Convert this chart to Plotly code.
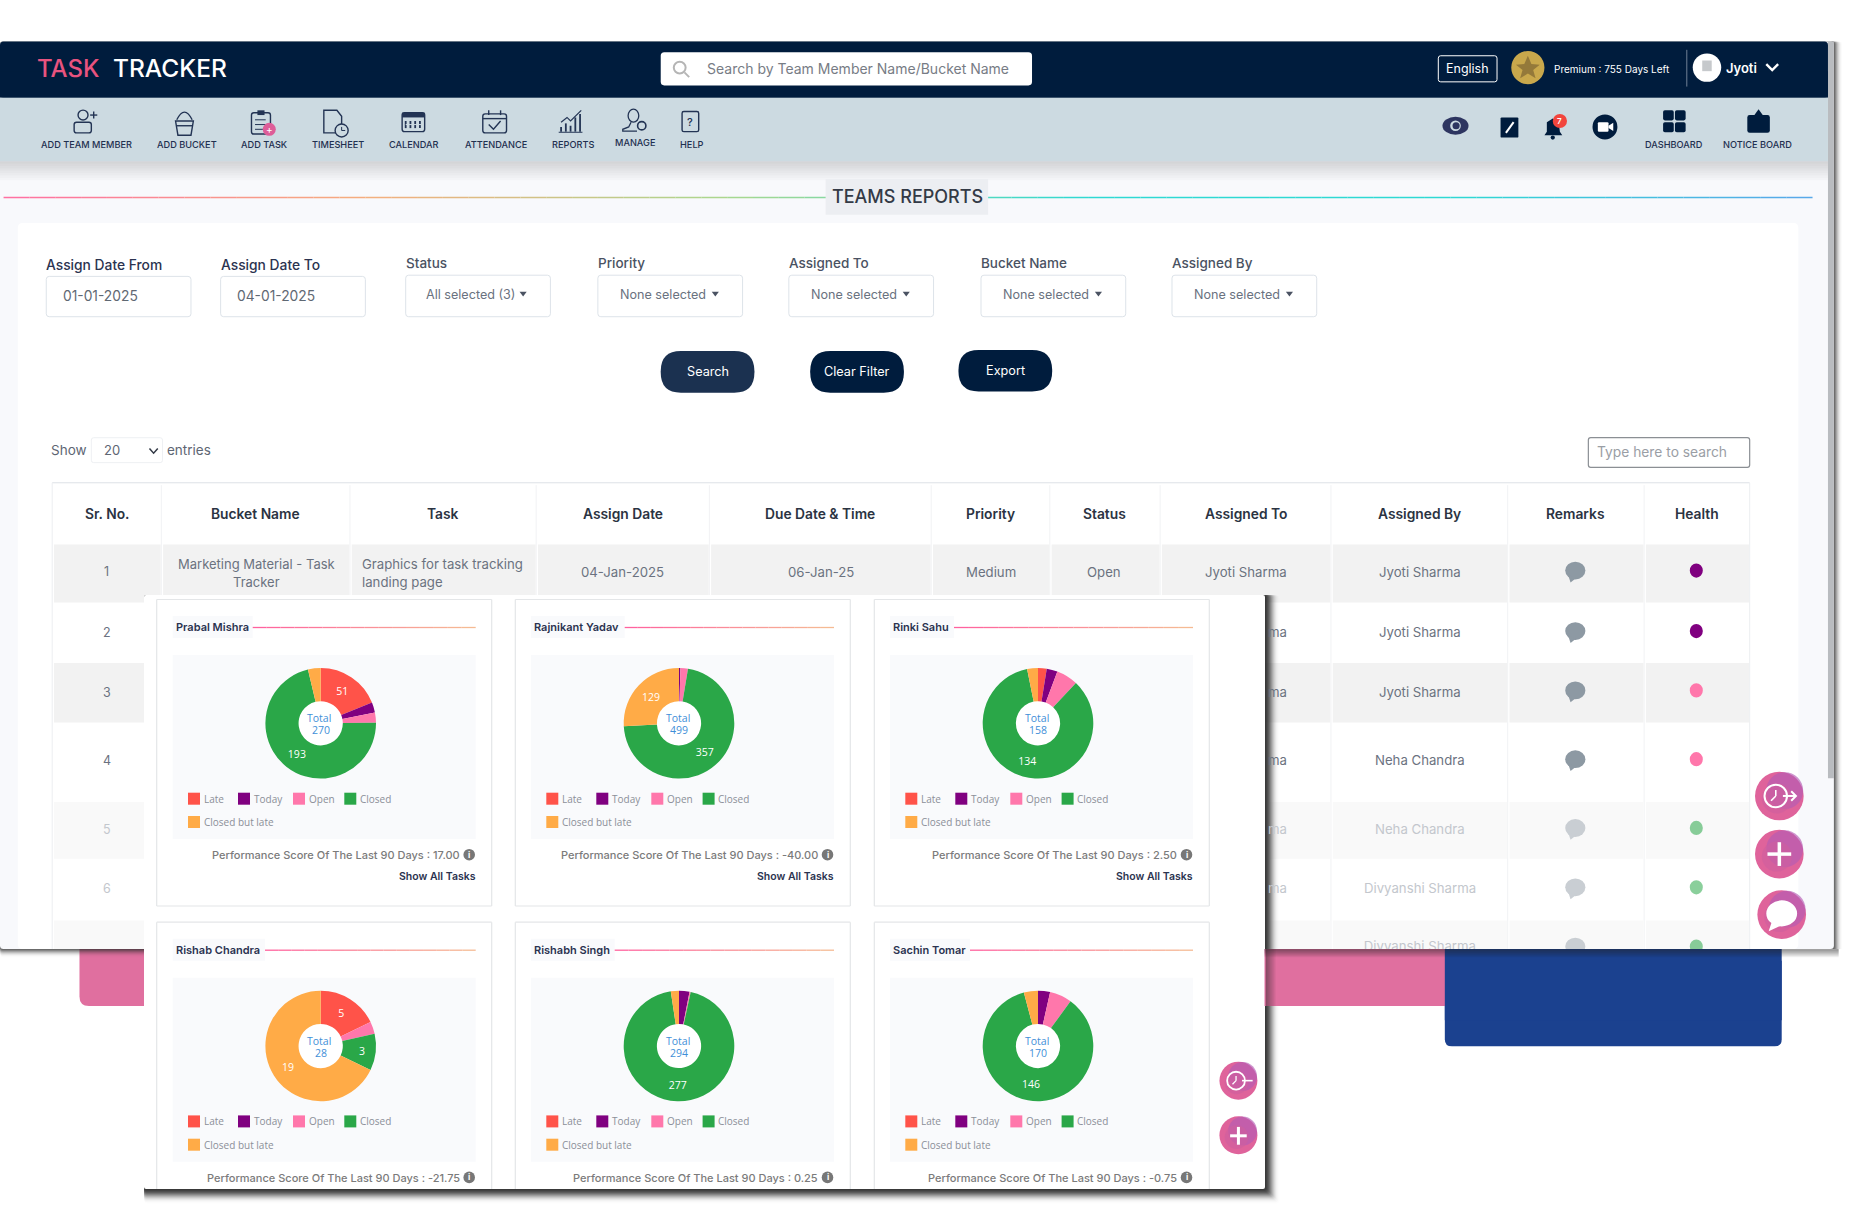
import plotly.graph_objects as go

# ---------- data ----------
CATEGORIES = ["Late", "Today", "Open", "Closed", "Closed but late"]
MEMBERS = ["Prabal Mishra", "Rajnikant Yadav", "Rinki Sahu", "Rishab Chandra", "Rishabh Singh", "Sachin Tomar"]
LATE = [51, 0, 4, 5, 0, 0]
TODAY = [8, 2, 5, 0, 9, 6]
OPEN = [8, 11, 10, 1, 1, 11]
CLOSED = [193, 357, 134, 3, 277, 146]
CLOSED_LATE = [10, 129, 5, 19, 7, 7]
TOTALS = [270, 499, 158, 28, 294, 170]
SCORES = ["17.00", "-40.00", "2.50", "-21.75", "0.25", "-0.75"]
COLORS = ["#ff5349", "#800080", "#ff77ab", "#2aa748", "#ffab47"]

NAV_LEFT = ["ADD TEAM MEMBER", "ADD BUCKET", "ADD TASK", "TIMESHEET", "CALENDAR", "ATTENDANCE", "REPORTS", "MANAGE", "HELP"]
NAV_LEFT_X = [73, 158, 223, 285, 349, 418, 483, 535, 583]
HEADERS = ["Sr. No.", "Bucket Name", "Task", "Assign Date", "Due Date & Time", "Priority", "Status", "Assigned To", "Assigned By", "Remarks", "Health"]
COL_EDGES = [44, 136, 295, 452, 598, 785, 885, 978, 1122, 1271, 1386, 1475]
ROW_EDGES = [459, 508, 559, 609, 676, 724, 776, 830]
ASSIGNED_BY = ["Jyoti Sharma", "Jyoti Sharma", "Jyoti Sharma", "Neha Chandra", "Neha Chandra", "Divyanshi Sharma"]
HEALTH = ["#800080", "#800080", "#ff77ab", "#ff77ab", "#2aa748", "#2aa748", "#2aa748"]
FILTER_DATES = [("Assign Date From", "01-01-2025", 39), ("Assign Date To", "04-01-2025", 186)]
FILTER_SELECTS = [("Status", "All selected (3)", 342), ("Priority", "None selected", 504), ("Assigned To", "None selected", 665),
                  ("Bucket Name", "None selected", 827), ("Assigned By", "None selected", 988)]

# ---------- helpers ----------
W, H = 1860, 1230
S = W / 1568          # chrome is laid out in 1568-wide units
UI = "Inter"
CHART = "Open Sans"
NAVY = "#001c3d"
INK = "#2b3350"
shapes, annots = [], []


def d(v):
    return v * S


def rr_path(x0, y0, x1, y1, r):
    return (f"M{x0+r},{y0} L{x1-r},{y0} Q{x1},{y0} {x1},{y0+r} L{x1},{y1-r} Q{x1},{y1} {x1-r},{y1} "
            f"L{x0+r},{y1} Q{x0},{y1} {x0},{y1-r} L{x0},{y0+r} Q{x0},{y0} {x0+r},{y0} Z")


def rect(x0, y0, x1, y1, fill="rgba(0,0,0,0)", line=None, lw=1, r=0, layer="below", op=1):
    ln = dict(color=line, width=lw) if line else dict(width=0)
    base = dict(xref="x", yref="y", layer=layer, fillcolor=fill, line=ln, opacity=op)
    if r:
        shapes.append(dict(type="path", path=rr_path(x0, y0, x1, y1, r), **base))
    else:
        shapes.append(dict(type="rect", x0=x0, y0=y0, x1=x1, y1=y1, **base))


def drect(x0, y0, x1, y1, fill="rgba(0,0,0,0)", line=None, lw=1, r=0, layer="below", op=1):
    rect(d(x0), d(y0), d(x1), d(y1), fill, line, lw, r * S, layer, op)


def circ(cx, cy, r, fill="rgba(0,0,0,0)", line=None, lw=1, op=1, rx=None):
    rx = r if rx is None else rx
    ln = dict(color=line, width=lw) if line else dict(width=0)
    shapes.append(dict(type="circle", xref="x", yref="y", layer="below", x0=cx-rx, x1=cx+rx, y0=cy-r, y1=cy+r,
                       fillcolor=fill, line=ln, opacity=op))


def dcirc(cx, cy, r, fill="rgba(0,0,0,0)", line=None, lw=1, op=1, rx=None):
    circ(d(cx), d(cy), d(r), fill, line, lw, op, None if rx is None else d(rx))


def seg(x0, y0, x1, y1, color, lw=1, op=1, layer="below"):
    shapes.append(dict(type="line", xref="x", yref="y", layer=layer, x0=x0, y0=y0, x1=x1, y1=y1,
                       line=dict(color=color, width=lw), opacity=op))


def dseg(x0, y0, x1, y1, color, lw=1, op=1):
    seg(d(x0), d(y0), d(x1), d(y1), color, lw, op)


def poly(pts, fill="rgba(0,0,0,0)", line=None, lw=1, close=True):
    p = "M" + " L".join(f"{d(x)},{d(y)}" for x, y in pts) + (" Z" if close else "")
    ln = dict(color=line, width=lw) if line else dict(width=0)
    shapes.append(dict(type="path", path=p, xref="x", yref="y", layer="below", fillcolor=fill, line=ln))


def text(x, y, s, size=12, color="#555", anchor="center", family=UI, weight=400):
    annots.append(dict(x=x, y=y, xref="x", yref="y", text=s, showarrow=False, xanchor=anchor, yanchor="middle",
                       borderpad=0, borderwidth=0, font=dict(size=size, color=color, family=family, weight=weight)))


def dtext(x, y, s, size=12, color="#555", anchor="center", family=UI, weight=400):
    text(d(x), d(y), s, size, color, anchor, family, weight)


def mix(a, b, t):
    ca = [int(a[i:i+2], 16) for i in (1, 3, 5)]
    cb = [int(b[i:i+2], 16) for i in (1, 3, 5)]
    return "#%02x%02x%02x" % tuple(round(p + (q - p) * t) for p, q in zip(ca, cb))


def grad_line(x0, x1, y, stops, lw=1.5, n=40):
    for i in range(n):
        t = (i + .5) / n * (len(stops) - 1)
        k = min(int(t), len(stops) - 2)
        seg(x0 + (x1-x0)*i/n, y, x0 + (x1-x0)*(i+1)/n, y, mix(stops[k], stops[k+1], t-k), lw)


def shadow(x0, y0, x1, y1, depth=12, col="#303030", strength=.62):
    for i in range(depth, 0, -1):
        op = strength * (1 - i / (depth + 1)) ** 2 * .55
        rect(x0, y0, x1 + i, y1 + i, col, op=op, r=3)


# ---------- backdrop ----------
drect(67, 760, 1240, 848, "#e06f9f", r=8)
drect(1218, 760, 1502, 882, "#1b418f", r=6)
shadow(d(0), d(35), d(1546), d(800), depth=9, strength=.7)
drect(0, 35, 1546, 800, "#f8f9fc", r=3)
drect(1541, 35, 1546, 656, "#b9bcc0")
drect(0, 35, 1541, 82.5, NAVY, r=3)
drect(0, 60, 1541, 82.5, NAVY)
drect(0, 82.5, 1541, 136, "#ccdae1")
for i in range(8):
    drect(0, 136 + i*2, 1541, 138 + i*2, "#000000", op=.018 * (8 - i))

# header bar
dtext(31, 57.5, "TASK", 24, "#e8537f", "left", UI, 500)
dtext(95, 57.5, "TRACKER", 24.5, "#ffffff", "left", UI, 500)
drect(557, 44, 870, 72, "#ffffff", r=3)
dcirc(573, 57, 5, line="#b5b5b5", lw=2)
dseg(577, 61, 581, 65, "#b5b5b5", 2)
dtext(596, 57.5, "Search by Team Member Name/Bucket Name", 14, "#777c85", "left")
drect(1212.5, 47, 1262, 69, NAVY, line="#ffffff", lw=1, r=2)
dtext(1237, 57.5, "English", 12.5, "#ffffff")
dcirc(1288, 57, 14, "#c9a84c")
poly([(1288, 47), (1291, 54), (1298, 54.5), (1292.5, 59), (1294.5, 66), (1288, 62), (1281.5, 66), (1283.5, 59), (1278, 54.5), (1285, 54)], "#94793a")
dtext(1310, 58, "Premium : 755 Days Left", 10, "#ffffff", "left")
dseg(1422, 42, 1422, 73, "#6f8196", 1)
dcirc(1439, 57, 12, "#ffffff")
drect(1435, 51, 1443, 60, "#c6c9cc")
dtext(1455, 57.5, "Jyoti", 13, "#ffffff", "left", UI, 600)
poly([(1489, 54), (1494, 59), (1499, 54)], line="#ffffff", lw=2.4, close=False)

# ---------- nav bar ----------
for label, x in zip(NAV_LEFT, NAV_LEFT_X):
    dtext(x, 121.5 if label != "MANAGE" else 120.5, label, 9.2, "#1f3050", weight=500)
dtext(1411, 122, "DASHBOARD", 9.2, "#1f3050", weight=500)
dtext(1482, 122, "NOTICE BOARD", 9.2, "#1f3050", weight=500)

IC = "#233454"
# add team member
dcirc(70, 97, 4.2, line=IC, lw=1.4)
drect(62.5, 103, 77, 112, line=IC, lw=1.4, r=2)
dseg(76, 97, 82, 97, IC, 1.4); dseg(79, 94, 79, 100, IC, 1.4)
# add bucket
poly([(148, 102), (163, 102), (161, 114), (150, 114)], line=IC, lw=1.4)
dseg(149, 106, 162, 106, IC, 1.4)
shapes.append(dict(type="path", path=f"M{d(149)},{d(101)} Q{d(155.5)},{d(88)} {d(162)},{d(101)}", xref="x", yref="y", layer="below", line=dict(color=IC, width=1.4)))
# add task
drect(212, 95, 228, 113, line=IC, lw=1.4, r=2)
drect(217, 93, 223, 97, IC)
for yy in (101, 105, 109):
    dseg(215, yy, 224, yy, IC, 1)
dcirc(227, 109, 5.5, "#dd5d98")
dtext(227, 109, "+", 10, "#ffffff")
# timesheet
poly([(273, 93), (284, 93), (288, 98), (288, 104), (283, 112), (273, 112)], line=IC, lw=1.4)
dcirc(288, 110, 5.5, "#ccdae1", line=IC, lw=1.4)
dseg(288, 107, 288, 110, IC, 1); dseg(288, 110, 291, 110, IC, 1)
# calendar
drect(339, 95, 358, 111, line=IC, lw=1.4, r=2)
drect(339, 95, 358, 99, IC)
for xx in range(342, 358, 4):
    dseg(xx, 102, xx, 108, IC, 1.8)
dseg(342, 105, 355, 105, "#ccdae1", 1)
# attendance
drect(407, 96, 427, 112, line=IC, lw=1.4, r=2)
dseg(407, 100, 427, 100, IC, 1.4); dseg(412, 93, 412, 97, IC, 1.4); dseg(422, 93, 422, 97, IC, 1.4)
poly([(412, 105), (416, 109), (422, 102)], line=IC, lw=1.4, close=False)
# reports
for xx, top in zip((473, 477, 481, 485, 489), (107, 104, 106, 99, 96)):
    dseg(xx, 111, xx, top, IC, 1.8)
poly([(473, 103), (478, 99), (481, 102), (490, 93)], line=IC, lw=1.2, close=False)
dseg(471, 111.5, 491, 111.5, IC, 1)
# manage
dcirc(534, 97.5, 5.5, rx=4.5, line=IC, lw=1.3)
poly([(532, 103), (530, 107), (525, 109), (525, 110.5), (537, 110.5)], line=IC, lw=1.3, close=False)
dcirc(541, 106, 3.5, line=IC, lw=1.6)
# help
drect(575, 94, 589, 111, line=IC, lw=1.4, r=1.5)
dtext(582, 102.5, "?", 11, IC, weight=500)
# eye
dcirc(1227, 106, 7.5, "#2d3560", rx=11)
dcirc(1227, 106, 4.5, "#ccdae1")
dcirc(1227.5, 106, 3, "#2d3560")
# note
drect(1265, 99, 1280, 116, NAVY, r=1)
dseg(1269.5, 112, 1276, 103, "#ffffff", 2)
# bell
poly([(1309, 100), (1314, 103), (1315, 111), (1317, 114), (1302, 114), (1304, 111), (1304, 103)], NAVY)
dcirc(1309, 116, 1.8, NAVY)
dcirc(1315, 102, 6, "#f2453d")
dtext(1315, 102, "7", 8, "#ffffff", weight=600)
# video
dcirc(1353, 107, 10.5, NAVY)
drect(1347, 103, 1356, 111, "#ffffff", r=1)
poly([(1356, 106), (1360, 103.5), (1360, 110.5), (1356, 108)], "#ffffff")
# dashboard
for xx in (1402, 1412):
    for yy in (93, 103):
        drect(xx, yy, xx + 9, yy + 8.5, NAVY, r=1.5)
# notice board
drect(1473, 97, 1492, 112, NAVY, r=2)
poly([(1482.5, 92), (1486, 97), (1479, 97)], NAVY)

# ---------- section title ----------
STOPS = ["#ff6fa3", "#f5ae7e", "#a9d88f", "#2ed9d3", "#2ed9d3", "#5aa7ea"]
grad_line(d(3), d(1528), d(166.5), STOPS, 1.5, 70)
drect(696, 151, 833, 181, "#eceef2")
dtext(765, 166, "TEAMS REPORTS", 18, "#333a46", weight=500)

# ---------- filter panel ----------
drect(15, 188, 1516, 800, "#ffffff", r=4)
BORDER = "#dde3e9"
for label, val, x in FILTER_DATES:
    dtext(x, 223.5, label, 13.8, INK, "left", weight=500)
    drect(x, 233, x + 122, 267, "#ffffff", line=BORDER, lw=1, r=2.5)
    dtext(x + 14, 249.5, val, 13.8, "#5f6873", "left")
for label, val, x in FILTER_SELECTS:
    dtext(x, 222, label, 13.5, "#4a5262", "left", weight=500)
    drect(x, 232, x + 122, 267, "#ffffff", line=BORDER, lw=1, r=2.5)
    dtext(x + 55, 248.5, val, 12.6, "#6a7280")
    poly([(x + 96, 246), (x + 102, 246), (x + 99, 250)], "#4a5262")
for label, x0, y0, col in [("Search", 557, 296, "#1b3150"), ("Clear Filter", 683, 296, NAVY), ("Export", 808, 295, NAVY)]:
    drect(x0, y0, x0 + 79, y0 + 35, col, r=17)
    dtext(x0 + 39.5, y0 + 17, label, 12.7, "#ffffff")

dtext(43, 379.5, "Show", 13.5, "#5e6673", "left")
drect(77, 369, 137, 390, "#ffffff", line="#eef0f3", r=2)
dtext(88, 379.5, "20", 13, "#5e6673", "left")
poly([(126, 378), (129.5, 382), (133, 378)], line="#333a46", lw=1.5, close=False)
dtext(141, 379.5, "entries", 13.5, "#5e6673", "left")
drect(1339, 369, 1475, 394, "#ffffff", line="#8b8f94", lw=1.2, r=2)
dtext(1346, 381, "Type here to search", 13.8, "#9a9ea5", "left")

# ---------- table ----------
dseg(44, 407, 1475, 407, "#dde1e6", 1)
dseg(44, 407, 44, 800, "#eceef1", 1)
dseg(1475, 407, 1475, 800, "#eceef1", 1)
for i, h in enumerate(HEADERS):
    dtext((COL_EDGES[i] + COL_EDGES[i+1]) / 2, 433, h, 13.8, "#2b3342", weight=600)
    if i:
        dseg(COL_EDGES[i], 409, COL_EDGES[i], 800, "#f1f2f4", 1)
for r in range(7):
    y0, y1 = ROW_EDGES[r], ROW_EDGES[r+1]
    if r % 2 == 0:
        c = "#f2f2f2" if r < 3 else "#f9f9f9"
        for i in range(11):
            drect(COL_EDGES[i] + 1.5, y0, COL_EDGES[i+1] - .5, min(y1, 800), c)
ROW_Y = [482, 533, 583.5, 641, 699, 749]
ROW_T = ["#6b7280", "#6b7280", "#6b7280", "#6b7280", "#c3c7cd", "#c3c7cd"]
ICON_Y = [481, 532, 582, 640, 698, 748, 798]
for r in range(7):
    faded = r >= 4
    col = "#c9ced3" if faded else "#8d99a3"
    dcirc(1328, ICON_Y[r], 7.5, col, rx=8.5)
    poly([(1322, ICON_Y[r] + 4), (1324, ICON_Y[r] + 10), (1329, ICON_Y[r] + 6)], col)
    dcirc(1430, ICON_Y[r], 6, HEALTH[r], rx=5.5, op=.55 if faded else 1)
for r in range(6):
    dtext(90, ROW_Y[r], str(r + 1), 12.5, ROW_T[r])
    dtext(1197, ROW_Y[r], ASSIGNED_BY[r], 13.2, ROW_T[r])
    if r:
        dtext(1085, ROW_Y[r], "ma", 13.2, ROW_T[r], "right")
dtext(216, 475.5, "Marketing Material - Task", 13, "#6b7280")
dtext(216, 491, "Tracker", 13, "#6b7280")
dtext(305, 475.5, "Graphics for task tracking", 13.2, "#6b7280", "left")
dtext(305, 491, "landing page", 13.2, "#6b7280", "left")
dtext(525, 482, "04-Jan-2025", 13.2, "#6b7280")
dtext(692, 482, "06-Jan-25", 13.2, "#6b7280")
dtext(835, 482, "Medium", 13.2, "#6b7280")
dtext(931, 482, "Open", 13.2, "#6b7280")
dtext(1050, 482, "Jyoti Sharma", 13.2, "#6b7280")


def fab(cx, cy, r):
    dcirc(cx, cy, r, "#df639b")
    dcirc(cx + r*.22, cy - r*.22, r*.76, "#b45cb4", op=.65)
    dcirc(cx - r*.1, cy + r*.1, r*.62, "#cf5f9e", op=.6)


# right side floating buttons
fab(1500, 671, 20.5)
dcirc(1497, 671, 9.5, line="#ffffff", lw=2)
dseg(1497, 666, 1497, 671, "#ffffff", 1.6); dseg(1497, 671, 1493, 675, "#ffffff", 1.6)
dseg(1503, 671, 1514, 671, "#ffffff", 2)
poly([(1510, 667), (1514, 671), (1510, 675)], line="#ffffff", lw=2, close=False)
fab(1500, 720, 20.5)
dseg(1490, 720, 1510, 720, "#ffffff", 3.5); dseg(1500, 710, 1500, 730, "#ffffff", 3.5)
fab(1502, 771, 20.5)
dcirc(1502, 770, 11, "#ffffff", rx=13)
poly([(1494, 776), (1491, 785), (1502, 780)], "#ffffff")

# ---------- popup with the six charts ----------
PX0, PY0, PX1, PY1 = 144, 595, 1265, 1189
shadow(PX0, PY0, PX1, PY1, depth=15, strength=.95)
rect(PX0, PY0, PX1, PY1, "#ffffff", r=2)

PANEL_L = [172.7, 531, 890, 172.7, 531, 890]
PANEL_T = [655, 655, 655, 977.7, 977.7, 977.7]
TITLE_R = [252.7, 624.7, 954, 265, 614.7, 970]
CARD_L = [156.7, 515.3, 874.3, 156.7, 515.3, 874.3]
LEG_X = [15.3, 65.3, 120.3, 171.6, 15.3]
LEG_Y = [143.7, 143.7, 143.7, 143.7, 167]
PANEL_W, PANEL_H, CARD_W = 303, 184, 335
RAD, HOLE_R = 55.3, 22.2

domains = []
for i, name in enumerate(MEMBERS):
    L, T = PANEL_L[i], PANEL_T[i]
    top2 = i >= 3
    cy0 = T - 55.5
    cy1 = T + 251 if not top2 else PY1
    for xx in (CARD_L[i], CARD_L[i] + CARD_W):
        seg(xx, cy0, xx, cy1, "#e4e6e8", 1.2)
    seg(CARD_L[i], cy0, CARD_L[i] + CARD_W, cy0, "#e4e6e8", 1.2)
    if not top2:
        seg(CARD_L[i], cy1, CARD_L[i] + CARD_W, cy1, "#e4e6e8", 1.2)
    rect(L, T - 39, TITLE_R[i], T - 17, "#f9fafc")
    text(L + 3, T - 28, name, 11, INK, "left", UI, 600)
    grad_line(TITLE_R[i], L + PANEL_W, T - 27.5, ["#ff5f9e", "#f5bd93"], 1.3, 16)
    rect(L, T, L + PANEL_W, T + PANEL_H, "#f9fafc")
    cx, cy = L + 148, T + 68.3
    circ(cx, cy, HOLE_R + 1, "#ffffff")
    domains.append(dict(x=[(cx - RAD) / W, (cx + RAD) / W], y=[1 - (cy + RAD) / H, 1 - (cy - RAD) / H]))
    text(cx - 1.3, cy - 5.2, "Total", 10.5, "#3f8fd8", family=CHART)
    text(cx, cy + 7, str(TOTALS[i]), 10.5, "#3f8fd8", family=CHART)
    for k, cat in enumerate(CATEGORIES):
        lx, ly = L + LEG_X[k], T + LEG_Y[k]
        rect(lx, ly - 6, lx + 12, ly + 6, COLORS[k])
        text(lx + 15.7, ly, cat, 10, "#8b8f98", "left", CHART)
    py = T + 200
    text(L + 287, py, f"Performance Score Of The Last 90 Days : {SCORES[i]}", 11, "#7b7b7b", "right", UI, 500)
    circ(L + 296.5, py - .3, 5.8, "#777777")
    text(L + 296.5, py - .3, "i", 8.5, "#ffffff", weight=700)
    if not top2:
        text(L + 303, T + 221, "Show All Tasks", 10.5, INK, "right", UI, 600)

# popup floating buttons
fab(1044, 911, 16)
dcirc(1042, 911, 7.5, line="#ffffff", lw=1.8)
dseg(1042, 907, 1042, 911, "#ffffff", 1.3); dseg(1042, 911, 1039, 914, "#ffffff", 1.3)
dseg(1047, 911, 1056, 911, "#ffffff", 1.6)
fab(1044, 957, 16)
dseg(1037, 957.5, 1051, 957.5, "#ffffff", 3); dseg(1044, 950, 1044, 965, "#ffffff", 3)

# ---------- build ----------
fig = go.Figure()
# partly hidden last row of the table: cut by the window edge
fig.add_trace(go.Scatter(x=[d(1197)], y=[d(799)], mode="text", text=["Divyanshi Sharma"], showlegend=False, hoverinfo="skip",
                         textposition="middle center", textfont=dict(size=13.2, color="#c3c7cd", family=UI)))
# cover what runs past the window edge
rect(d(1066), d(800), d(1560), d(810), "#ffffff", layer="above")
rect(d(1066), d(800), d(1219), d(848), "#e06f9f", layer="above")
rect(d(1218), d(800), d(1502), d(860), "#1b418f", layer="above")
for i in range(8):
    rect(d(1066), d(800) + i, d(1550), d(801) + i, "#202020", op=.42 * (1 - i / 8), layer="above")
for i in range(10):
    rect(d(1067) + i, d(800), d(1068) + i, d(848), "#202020", op=.42 * (1 - i / 10), layer="above")

for i in range(len(MEMBERS)):
    vals = [LATE[i], TODAY[i], OPEN[i], CLOSED[i], CLOSED_LATE[i]]
    labels = [str(v) if v / TOTALS[i] >= 0.1 else "" for v in vals]
    fig.add_trace(go.Pie(labels=CATEGORIES, values=vals, text=labels, textinfo="text", textposition="inside",
                         insidetextorientation="horizontal", hole=0.4, sort=False, direction="clockwise", rotation=0,
                         domain=domains[i], marker=dict(colors=COLORS, line=dict(width=0)), showlegend=False,
                         hoverinfo="label+value", textfont=dict(color="#ffffff", size=10.5, family=CHART)))

fig.update_layout(width=W, height=H, margin=dict(l=0, r=0, t=0, b=0), paper_bgcolor="#ffffff", plot_bgcolor="rgba(0,0,0,0)",
                  xaxis=dict(range=[0, W], visible=False, fixedrange=True),
                  yaxis=dict(range=[H, 0], visible=False, fixedrange=True),
                  shapes=shapes, annotations=annots, showlegend=False)
fig.write_html("out.html", config={"displayModeBar": False},
               post_script="document.body.style.margin='0';document.documentElement.style.overflow='hidden';")
